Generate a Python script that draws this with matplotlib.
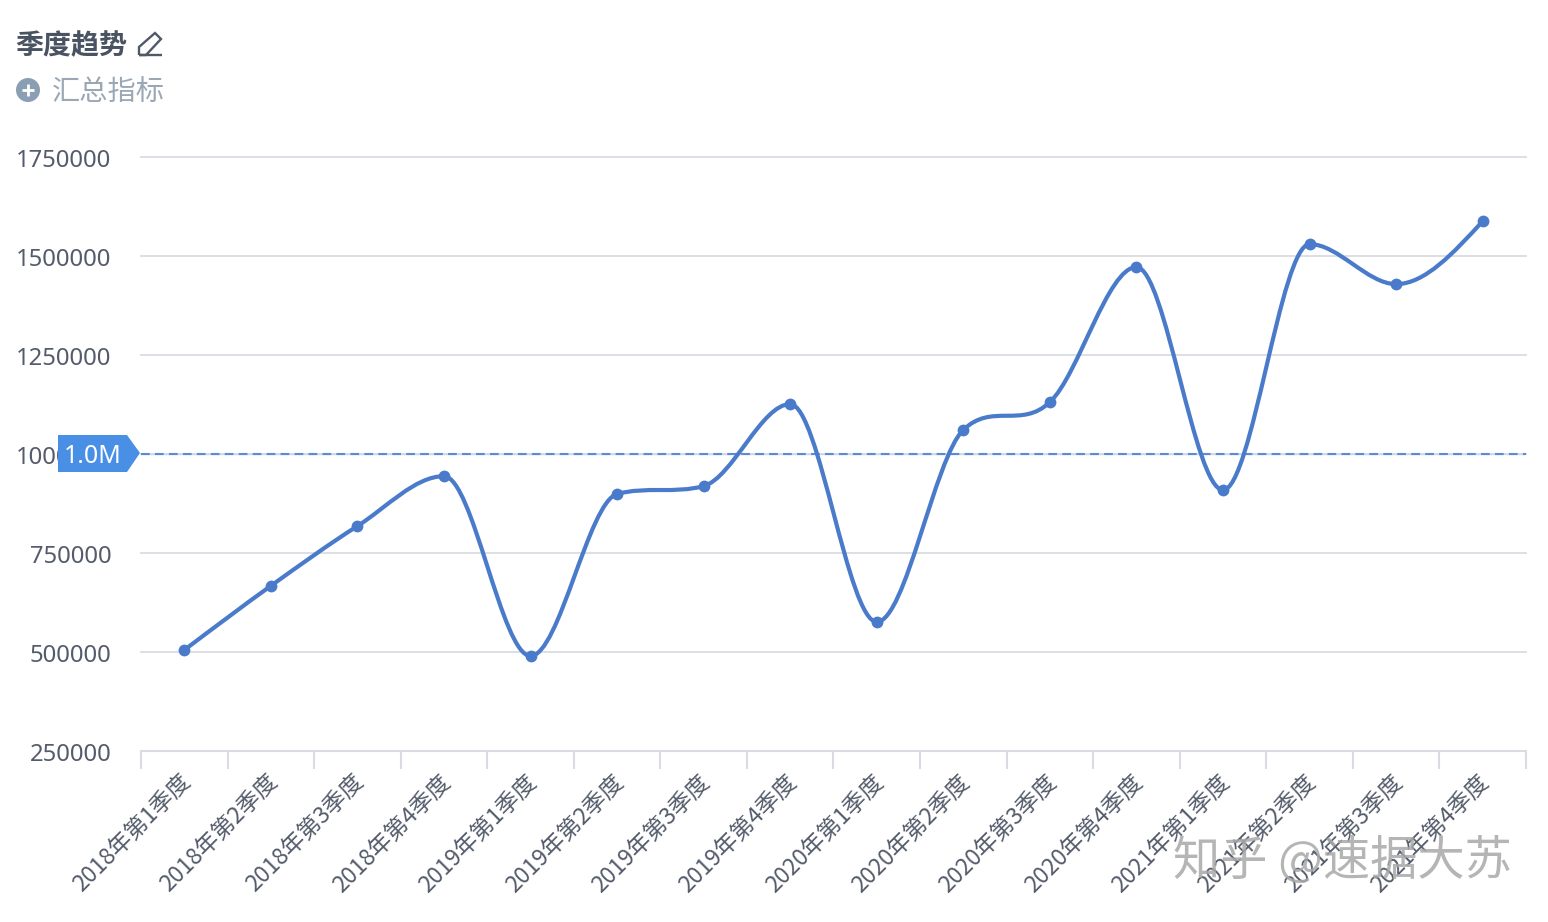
import numpy as np
import matplotlib
matplotlib.use("Agg")
import matplotlib.pyplot as plt
from matplotlib.path import Path
from matplotlib.patches import PathPatch, Polygon, Circle
from matplotlib.transforms import ScaledTranslation, Affine2D

categories = ["2018年第1季度", "2018年第2季度", "2018年第3季度", "2018年第4季度",
              "2019年第1季度", "2019年第2季度", "2019年第3季度", "2019年第4季度",
              "2020年第1季度", "2020年第2季度", "2020年第3季度", "2020年第4季度",
              "2021年第1季度", "2021年第2季度", "2021年第3季度", "2021年第4季度"]
values = [505000, 667000, 818000, 944000, 490000, 899000, 919000, 1126000,
          576000, 1061000, 1131000, 1472000, 909000, 1530000, 1429000, 1588000]
y_ticks = [250000, 500000, 750000, 1000000, 1250000, 1500000, 1750000]
reference_value = 1000000
reference_label = "1.0M"
title = "季度趋势"
subtitle = "汇总指标"
watermark = "知乎 @速据大苏"

W, H = 1548, 922
CJK = ["Noto Sans CJK SC", "DejaVu Sans"]
plt.rcParams["font.family"] = CJK

GRID = "#d9dde3"
TXT = "#545c6b"
BLUE = "#4a7bcb"

fig = plt.figure(figsize=(W / 100, H / 100), dpi=100, facecolor="white")
ax = fig.add_axes([141 / W, (H - 751) / H, 1385 / W, 594 / H])
ax.set_xlim(-0.5, len(categories) - 0.5)
ax.set_ylim(y_ticks[0], y_ticks[-1])
for s in ["top", "right", "left"]:
    ax.spines[s].set_visible(False)
ax.spines["bottom"].set_color(GRID)
ax.spines["bottom"].set_linewidth(1.5)

ax.set_yticks(y_ticks)
ax.set_yticklabels([str(v) for v in y_ticks], fontsize=17.2, color=TXT, family=["Noto Sans"])
ax.tick_params(axis="y", length=0, pad=21.4)
ax.grid(axis="y", color=GRID, linewidth=1.3, zorder=1, clip_on=False)
ax.set_axisbelow(True)
for lab in ax.get_yticklabels():
    lab.set_transform(lab.get_transform() + ScaledTranslation(0, -1 / 100, fig.dpi_scale_trans))

xs = np.arange(len(categories), dtype=float)
ax.set_xticks(xs)
ax.set_xticklabels(categories, rotation=45, ha="right", va="center",
                   rotation_mode="anchor", fontsize=16.6, color=TXT)
ax.tick_params(axis="x", which="major", length=0, pad=19.7)
for lab in ax.get_xticklabels():
    lab.set_transform(lab.get_transform() + ScaledTranslation(3 / 100, 0, fig.dpi_scale_trans))
ax.set_xticks(np.arange(-0.5, len(categories)), minor=True)
ax.tick_params(axis="x", which="minor", length=13, width=1.5, color=GRID)


def limited_tangents(x, y):
    h = np.diff(x)
    s = np.diff(y) / h
    t = np.zeros_like(y, dtype=float)
    for i in range(1, len(y) - 1):
        if s[i - 1] * s[i] > 0:
            t[i] = np.sign(s[i]) * min(0.5 * abs(s[i - 1] + s[i]), 3 * min(abs(s[i - 1]), abs(s[i])))
    t[0] = (3 * s[0] - t[1]) / 2
    t[-1] = (3 * s[-1] - t[-2]) / 2
    return t


ys = np.array(values, dtype=float)
tan = limited_tangents(xs, ys)
verts = [(xs[0], ys[0])]
codes = [Path.MOVETO]
for i in range(len(xs) - 1):
    d = (xs[i + 1] - xs[i]) / 3
    verts += [(xs[i] + d, ys[i] + tan[i] * d), (xs[i + 1] - d, ys[i + 1] - tan[i + 1] * d), (xs[i + 1], ys[i + 1])]
    codes += [Path.CURVE4] * 3
ax.add_patch(PathPatch(Path(verts, codes), fill=False, edgecolor=BLUE, linewidth=3.0, zorder=3))
ax.plot(xs, ys, linestyle="none", marker="o", markersize=8.5, color=BLUE, markeredgewidth=0, zorder=4)

# reference line and flag
ax.axhline(reference_value, color="#c5d6ee", linewidth=1.0, zorder=2)
ax.axhline(reference_value, color="#5b8bd0", linewidth=1.5, linestyle=(0, (4.2, 2.5)), zorder=2.5)

pix = Affine2D().scale(1, -1).translate(0, H)  # image pixels -> display
fig.add_artist(Polygon([(58, 435), (127, 435), (140, 453), (127, 472), (58, 472)],
                       closed=True, facecolor="#4a8fe6", edgecolor="none", transform=pix, zorder=5))
fig.text(93 / W, 1 - 456 / H, reference_label, color="white", fontsize=18, ha="center", va="center",
         family=["Noto Sans"], zorder=6)

# header
fig.text(15 / W, 1 - 46 / H, title, fontsize=20.2, fontweight="bold", color="#4a5362", ha="left", va="center")
fig.add_artist(PathPatch(Path([(139, 55), (139, 47), (155, 33), (161, 39), (146, 55), (139, 55),
                               (139, 55), (162, 55)],
                              [1, 2, 2, 2, 2, 2, 1, 2]),
                         fill=False, edgecolor="#4f5968", linewidth=1.7, transform=pix))
fig.add_artist(Circle((28, 90), 12, facecolor="#8a9fb3", edgecolor="none", transform=pix))
fig.add_artist(PathPatch(Path([(22, 90), (34, 90), (28, 84), (28, 96)], [1, 2, 1, 2]),
                         fill=False, edgecolor="white", linewidth=2, transform=pix))
fig.text(52 / W, 1 - 92 / H, subtitle, fontsize=20.3, color="#9aa8b6", ha="left", va="center")

# watermark
fig.text(1342.5 / W, 1 - 862 / H, watermark, fontsize=34, color="#a8a8a8", alpha=0.85, ha="center", va="center", zorder=10)

fig.savefig("out.png", dpi=100, facecolor="white")
